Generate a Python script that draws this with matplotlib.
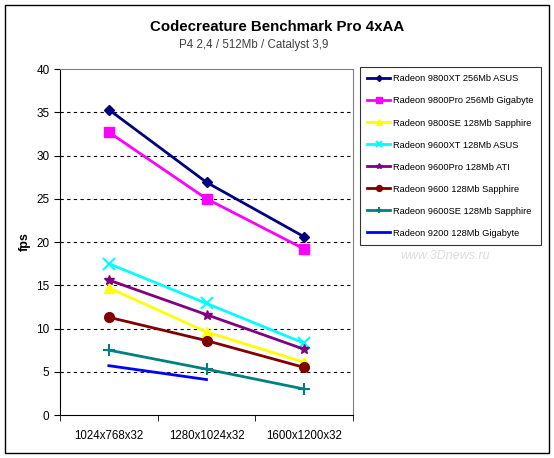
import matplotlib.pyplot as plt
from matplotlib.patches import Rectangle

plt.rcParams['font.family'] = ['Liberation Sans', 'DejaVu Sans']

categories = ['1024x768x32', '1280x1024x32', '1600x1200x32']
names = ['Radeon 9800XT 256Mb ASUS', 'Radeon 9800Pro 256Mb Gigabyte',
         'Radeon 9800SE 128Mb Sapphire', 'Radeon 9600XT 128Mb ASUS',
         'Radeon 9600Pro 128Mb ATI', 'Radeon 9600 128Mb Sapphire',
         'Radeon 9600SE 128Mb Sapphire', 'Radeon 9200 128Mb Gigabyte']
r9800xt = [35.3, 26.9, 20.6]
r9800pro = [32.7, 25.0, 19.2]
r9800se = [14.7, 9.6, 6.1]
r9600xt = [17.5, 12.9, 8.3]
r9600pro = [15.6, 11.6, 7.6]
r9600 = [11.3, 8.6, 5.5]
r9600se = [7.5, 5.3, 3.0]
r9200 = [5.7, 4.1]

series = [r9800xt, r9800pro, r9800se, r9600xt, r9600pro, r9600, r9600se, r9200]
colors = ['#000080', '#FF00FF', '#FFFF00', '#00FFFF', '#800080', '#800000', '#008080', '#0000FF']
markers = ['D', 's', '^', 'x', '*', 'o', '+', None]
msizes = [5, 7, 7, 8, 7, 7, 8, 0]

fig = plt.figure(figsize=(5.54, 4.58), dpi=100)
fig.patches.append(Rectangle((5 / 554, 5 / 458), 544 / 554, 448 / 458, transform=fig.transFigure,
                             fill=False, edgecolor='black', linewidth=1))
ax = fig.add_axes([60 / 554, 43 / 458, 293 / 554, 346 / 458])

for vals, name, c, m, ms in zip(series, names, colors, markers, msizes):
    ax.plot(range(len(vals)), vals, color=c, marker=m, markersize=ms, linewidth=2,
            markeredgewidth=1.5 if m in ('x', '+') else 1, label=name)

ax.set_xlim(-0.5, 2.5)
ax.set_ylim(0, 40)
ax.set_yticks(range(0, 41, 5))
ax.set_xticks([0, 1, 2])
ax.set_xticklabels(categories, fontsize=8.3)
ax.set_xticks([-0.5, 0.5, 1.5, 2.5], minor=True)
ax.tick_params(axis='x', which='major', length=0, pad=11)
ax.tick_params(axis='x', which='minor', length=4, direction='out')
ax.tick_params(axis='y', length=4, direction='out', labelsize=8.5)
for y in range(5, 40, 5):
    ax.axhline(y, color='black', linestyle=(0, (3, 3)), linewidth=0.8, zorder=0)
ax.spines['top'].set_color('#808080')
ax.spines['right'].set_color('#808080')
ax.set_ylabel('fps', fontsize=9, fontweight='bold', labelpad=4)

fig.text(0.5, 1 - 27 / 458, 'Codecreature Benchmark Pro 4xAA', ha='center', va='center',
         fontsize=10.8, fontweight='bold')
fig.text(254 / 554, 1 - 45 / 458, 'P4 2,4 / 512Mb / Catalyst 3,9', ha='center', va='center',
         fontsize=8.3, color='#404040')
fig.text(445 / 554, 1 - 256 / 458, 'www.3Dnews.ru', ha='center', va='center',
         fontsize=9, style='italic', color='#dddddd')

leg = fig.legend(loc='upper left', bbox_to_anchor=(360 / 554, 1 - 67 / 458), fontsize=6.7,
                 frameon=True, fancybox=False, edgecolor='black', borderaxespad=0,
                 labelspacing=1.4, handlelength=2.4, borderpad=0.8, handletextpad=0.3,
                 markerscale=0.6)
leg.get_frame().set_linewidth(0.8)

fig.savefig('out.png', dpi=100)
